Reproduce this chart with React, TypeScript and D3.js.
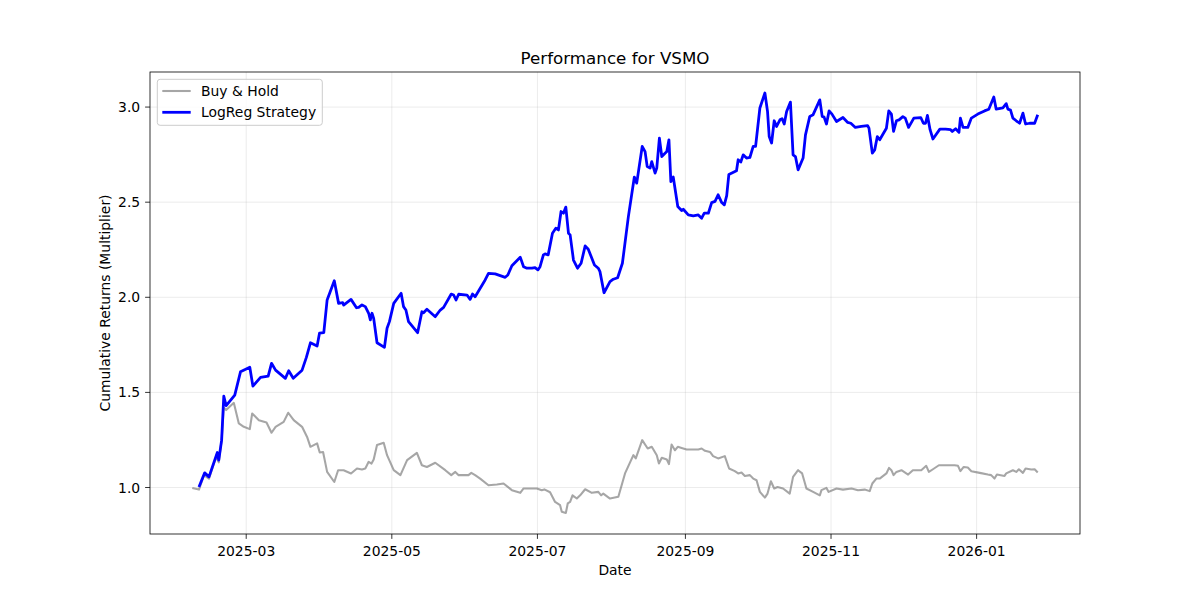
import React from "react";
import * as d3 from "d3";

// Day offsets are counted from 2025-03-01; values are growth multipliers.
const BASE_DATE = new Date(2025, 2, 1);

const buyHold: [number, number][] = [
  [-22.6, 0.998], [-19.8, 0.989], [-17.7, 1.065], [-15.6, 1.047], [-12.6, 1.161],
  [-11.5, 1.132], [-10.3, 1.249], [-9.4, 1.42], [-8.4, 1.407], [-5.2, 1.445],
  [-3.1, 1.337], [-1.0, 1.319], [1.5, 1.307], [2.5, 1.389], [5.3, 1.354],
  [8.5, 1.342], [10.6, 1.288], [12.3, 1.319], [15.7, 1.345], [17.6, 1.393],
  [19.9, 1.354], [23.4, 1.319], [25.5, 1.266], [26.9, 1.214], [29.7, 1.232],
  [30.8, 1.184], [32.2, 1.187], [33.9, 1.082], [36.9, 1.029], [38.5, 1.091],
  [40.8, 1.091], [43.9, 1.074], [46.4, 1.1], [48.5, 1.095], [49.9, 1.1],
  [51.3, 1.135], [52.5, 1.126], [53.4, 1.147], [54.8, 1.223], [57.6, 1.235],
  [59.0, 1.17], [61.8, 1.091], [64.6, 1.065], [67.4, 1.144], [71.5, 1.182],
  [73.6, 1.117], [75.7, 1.108], [79.2, 1.13], [83.4, 1.091], [85.9, 1.065],
  [87.6, 1.082], [89.0, 1.065], [93.1, 1.065], [94.3, 1.077], [95.9, 1.065],
  [98.0, 1.047], [101.5, 1.012], [105.0, 1.016], [107.8, 1.021], [111.3, 0.986],
  [114.8, 0.972], [116.2, 0.995], [118.2, 0.995], [121.8, 0.995], [123.8, 0.986],
  [124.9, 0.99], [127.3, 0.975], [129.4, 0.924], [131.5, 0.907], [132.2, 0.872],
  [133.9, 0.866], [134.7, 0.916], [135.7, 0.924], [136.7, 0.959], [138.5, 0.942],
  [139.9, 0.959], [142.0, 0.991], [144.8, 0.972], [147.5, 0.977], [148.7, 0.959],
  [149.6, 0.968], [152.4, 0.942], [155.9, 0.951], [158.7, 1.074], [162.2, 1.17],
  [163.2, 1.153], [165.9, 1.249], [168.2, 1.205], [169.9, 1.214], [172.0, 1.17],
  [172.9, 1.126], [174.1, 1.156], [176.2, 1.147], [177.1, 1.123], [178.2, 1.226],
  [179.6, 1.196], [180.8, 1.214], [182.4, 1.208], [184.5, 1.2], [189.4, 1.2],
  [190.8, 1.205], [192.2, 1.193], [194.3, 1.187], [195.6, 1.165], [197.7, 1.153],
  [200.5, 1.165], [202.3, 1.1], [204.7, 1.086], [206.1, 1.074], [207.5, 1.079],
  [208.9, 1.061], [211.0, 1.065], [212.4, 1.047], [213.8, 1.038], [215.2, 0.977],
  [217.3, 0.947], [218.4, 0.968], [219.8, 1.033], [221.2, 0.995], [222.6, 1.003],
  [224.9, 0.995], [227.7, 0.968], [229.1, 1.056], [231.2, 1.091], [232.9, 1.074],
  [234.7, 0.995], [237.5, 0.977], [240.3, 0.959], [241.0, 0.986], [243.1, 0.998],
  [244.0, 0.977], [247.3, 0.995], [250.0, 0.989], [253.6, 0.995], [256.3, 0.986],
  [259.1, 0.989], [261.2, 0.981], [262.3, 1.021], [264.0, 1.047], [265.4, 1.047],
  [268.2, 1.074], [269.3, 1.103], [270.3, 1.091], [271.2, 1.065], [272.4, 1.082],
  [274.5, 1.091], [277.3, 1.068], [279.3, 1.091], [282.8, 1.091], [284.9, 1.114],
  [286.0, 1.082], [287.7, 1.096], [290.2, 1.117], [296.8, 1.117], [298.2, 1.114],
  [299.2, 1.086], [300.6, 1.108], [302.3, 1.105], [303.8, 1.086], [307.3, 1.077],
  [310.7, 1.068], [312.1, 1.065], [313.5, 1.047], [314.5, 1.068], [317.7, 1.061],
  [318.4, 1.074], [321.2, 1.091], [322.6, 1.082], [323.7, 1.096], [325.4, 1.077],
  [326.5, 1.1], [328.9, 1.095], [330.3, 1.096], [331.6, 1.079],
];

const strategy: [number, number][] = [
  [-19.8, 1.003], [-17.4, 1.077], [-15.6, 1.056], [-12.1, 1.184], [-11.5, 1.144],
  [-10.3, 1.249], [-9.4, 1.48], [-8.4, 1.43], [-4.8, 1.486], [-2.4, 1.608],
  [1.5, 1.632], [2.8, 1.533], [6.0, 1.579], [9.2, 1.586], [10.6, 1.653],
  [12.3, 1.617], [16.4, 1.574], [17.8, 1.614], [19.7, 1.574], [23.4, 1.617],
  [25.2, 1.684], [26.9, 1.761], [29.7, 1.744], [30.7, 1.811], [32.5, 1.814],
  [33.9, 1.986], [36.9, 2.087], [38.7, 1.968], [40.4, 1.972], [40.8, 1.959],
  [43.9, 1.989], [46.2, 1.945], [47.1, 1.947], [48.5, 1.96], [49.9, 1.951],
  [51.3, 1.916], [52.0, 1.881], [52.7, 1.916], [53.4, 1.889], [54.8, 1.761],
  [57.9, 1.737], [59.0, 1.837], [60.0, 1.872], [61.8, 1.968], [64.9, 2.021],
  [65.9, 1.951], [66.9, 1.933], [68.0, 1.872], [71.8, 1.814], [73.6, 1.924],
  [74.3, 1.919], [75.7, 1.937], [79.2, 1.898], [81.3, 1.933], [82.7, 1.947],
  [85.9, 2.017], [86.9, 2.012], [87.9, 1.986], [89.0, 2.016], [92.5, 2.012],
  [93.8, 1.989], [94.8, 2.017], [95.9, 2.003], [100.1, 2.091], [101.5, 2.126],
  [104.3, 2.123], [108.5, 2.105], [109.6, 2.117], [111.3, 2.166], [114.8, 2.211],
  [116.2, 2.161], [117.6, 2.153], [119.7, 2.153], [121.0, 2.156], [122.2, 2.144],
  [123.1, 2.161], [124.5, 2.223], [125.2, 2.228], [126.5, 2.223], [128.3, 2.337],
  [129.7, 2.363], [130.8, 2.354], [131.9, 2.451], [132.9, 2.442], [133.9, 2.474],
  [135.0, 2.337], [135.7, 2.328], [137.1, 2.196], [138.8, 2.153], [140.3, 2.179],
  [142.0, 2.27], [143.3, 2.253], [145.9, 2.17], [147.5, 2.153], [148.2, 2.135],
  [149.9, 2.024], [152.4, 2.082], [153.8, 2.095], [155.6, 2.103], [157.6, 2.179],
  [160.1, 2.424], [162.6, 2.632], [163.6, 2.6], [165.9, 2.793], [167.1, 2.766],
  [168.0, 2.687], [169.2, 2.679], [169.9, 2.713], [171.3, 2.653], [172.0, 2.679],
  [173.1, 2.837], [174.1, 2.74], [176.2, 2.766], [177.1, 2.828], [177.9, 2.608],
  [178.9, 2.632], [180.8, 2.477], [182.4, 2.456], [183.1, 2.463], [185.2, 2.433],
  [187.3, 2.428], [189.4, 2.433], [190.8, 2.416], [191.9, 2.442], [193.6, 2.442],
  [195.0, 2.498], [196.4, 2.504], [197.7, 2.539], [199.2, 2.498], [200.3, 2.486],
  [201.3, 2.534], [202.2, 2.646], [205.4, 2.665], [206.1, 2.723], [207.2, 2.711],
  [208.2, 2.749], [209.6, 2.732], [211.0, 2.735], [212.4, 2.793], [213.4, 2.793],
  [215.2, 2.995], [217.3, 3.074], [218.4, 2.977], [219.1, 2.845], [220.1, 2.811],
  [221.2, 2.928], [222.2, 2.898], [223.6, 2.933], [224.5, 2.939], [225.4, 2.911],
  [226.4, 2.977], [228.0, 3.026], [229.1, 2.749], [230.1, 2.74], [231.2, 2.67],
  [233.3, 2.732], [234.3, 2.854], [236.1, 2.951], [237.5, 2.96], [240.3, 3.038],
  [241.3, 2.951], [242.1, 2.947], [243.1, 2.911], [244.2, 2.98], [245.4, 2.963],
  [247.3, 2.924], [250.0, 2.945], [251.9, 2.92], [253.3, 2.915], [255.2, 2.893],
  [257.7, 2.898], [260.3, 2.903], [260.9, 2.889], [262.3, 2.758], [263.3, 2.775],
  [264.4, 2.845], [265.4, 2.828], [268.2, 2.889], [269.2, 2.98], [270.3, 2.963],
  [271.2, 2.872], [272.4, 2.928], [273.5, 2.933], [275.1, 2.95], [276.1, 2.942],
  [277.5, 2.893], [279.7, 2.942], [282.6, 2.945], [283.7, 2.915], [284.6, 2.915],
  [285.4, 2.956], [286.5, 2.881], [287.7, 2.832], [290.6, 2.884], [293.0, 2.884],
  [295.1, 2.881], [295.8, 2.872], [297.2, 2.886], [298.6, 2.867], [299.2, 2.942],
  [300.3, 2.893], [302.3, 2.893], [303.8, 2.942], [306.5, 2.963], [309.3, 2.98],
  [311.1, 2.989], [313.2, 3.053], [314.2, 2.989], [317.0, 2.996], [318.4, 3.018],
  [319.1, 2.989], [320.2, 2.984], [321.2, 2.942], [322.6, 2.928], [324.0, 2.915],
  [325.4, 2.968], [326.5, 2.911], [328.2, 2.915], [330.3, 2.915], [331.6, 2.96],
];

const xTickDates = ["2025-03", "2025-05", "2025-07", "2025-09", "2025-11", "2026-01"];
const yTicks = [1.0, 1.5, 2.0, 2.5, 3.0];

const toDate = (d: number) => new Date(BASE_DATE.getTime() + d * 864e5);
const parseMonth = d3.timeParse("%Y-%m");

const W = 1200;
const H = 600;
const margin = { left: 150, right: 120, top: 72, bottom: 66 };
const FONT = "DejaVu Sans, sans-serif";

export default function App() {
  const x0 = margin.left;
  const x1 = W - margin.right;
  const y0 = H - margin.bottom;
  const y1 = margin.top;

  // 5% padding on each side, as matplotlib does by default
  const allDays = [...buyHold, ...strategy].map((d) => d[0]);
  const allVals = [...buyHold, ...strategy].map((d) => d[1]);
  const [dLo, dHi] = d3.extent(allDays) as [number, number];
  const [vLo, vHi] = d3.extent(allVals) as [number, number];
  const dPad = (dHi - dLo) * 0.05;
  const vPad = (vHi - vLo) * 0.05;

  const x = d3
    .scaleTime()
    .domain([toDate(dLo - dPad), toDate(dHi + dPad)])
    .range([x0, x1]);
  const y = d3.scaleLinear().domain([vLo - vPad, vHi + vPad]).range([y0, y1]);

  const line = d3
    .line<[number, number]>()
    .x((d) => x(toDate(d[0])))
    .y((d) => y(d[1]));

  const xTicks = xTickDates.map((s) => parseMonth(s) as Date);
  const fmt = d3.timeFormat("%Y-%m");
  const tickLen = 4.9;

  return (
    <svg
      width={W}
      height={H}
      style={{ position: "absolute", left: 0, top: 0, background: "#fff" }}
      fontFamily={FONT}
    >
      <rect x={0} y={0} width={W} height={H} fill="#fff" />

      {/* grid */}
      <g stroke="#b0b0b0" strokeOpacity={0.3} strokeWidth={0.8}>
        {xTicks.map((t) => (
          <line key={"gx" + t} x1={x(t)} x2={x(t)} y1={y1} y2={y0} />
        ))}
        {yTicks.map((t) => (
          <line key={"gy" + t} x1={x0} x2={x1} y1={y(t)} y2={y(t)} />
        ))}
      </g>

      {/* series */}
      <path
        d={line(buyHold) || ""}
        fill="none"
        stroke="gray"
        strokeOpacity={0.7}
        strokeWidth={2.08}
        strokeLinejoin="round"
      />
      <path
        d={line(strategy) || ""}
        fill="none"
        stroke="#0000ff"
        strokeWidth={2.78}
        strokeLinejoin="round"
      />

      {/* spines */}
      <rect
        x={x0}
        y={y1}
        width={x1 - x0}
        height={y0 - y1}
        fill="none"
        stroke="#000"
        strokeWidth={0.8}
      />

      {/* x axis */}
      <g fontSize={13.9} fill="#000" textAnchor="middle">
        {xTicks.map((t) => (
          <g key={"tx" + t}>
            <line x1={x(t)} x2={x(t)} y1={y0} y2={y0 + tickLen} stroke="#000" strokeWidth={0.8} />
            <text x={x(t)} y={y0 + 21.5}>
              {fmt(t)}
            </text>
          </g>
        ))}
        <text x={(x0 + x1) / 2} y={574.5}>
          Date
        </text>
      </g>

      {/* y axis */}
      <g fontSize={13.9} fill="#000">
        {yTicks.map((t) => (
          <g key={"ty" + t}>
            <line x1={x0 - tickLen} x2={x0} y1={y(t)} y2={y(t)} stroke="#000" strokeWidth={0.8} />
            <text x={x0 - 2 * tickLen} y={y(t) + 5} textAnchor="end">
              {t.toFixed(1)}
            </text>
          </g>
        ))}
        <text
          transform={`translate(109.5, ${(y0 + y1) / 2}) rotate(-90)`}
          textAnchor="middle"
        >
          Cumulative Returns (Multiplier)
        </text>
      </g>

      {/* title */}
      <text x={(x0 + x1) / 2} y={64} textAnchor="middle" fontSize={16.7} fill="#000">
        Performance for VSMO
      </text>

      {/* legend */}
      <g>
        <rect
          x={157.3}
          y={79.3}
          width={165}
          height={46}
          rx={2.8}
          fill="#fff"
          fillOpacity={0.8}
          stroke="#cccccc"
          strokeWidth={1}
        />
        <line x1={162.3} x2={190.7} y1={91} y2={91} stroke="gray" strokeOpacity={0.7} strokeWidth={2.08} />
        <text x={201} y={96} fontSize={13.9} fill="#000">
          Buy &amp; Hold
        </text>
        <line x1={162.3} x2={190.7} y1={112.3} y2={112.3} stroke="#0000ff" strokeWidth={2.78} />
        <text x={201} y={117.3} fontSize={13.9} fill="#000">
          LogReg Strategy
        </text>
      </g>
    </svg>
  );
}
